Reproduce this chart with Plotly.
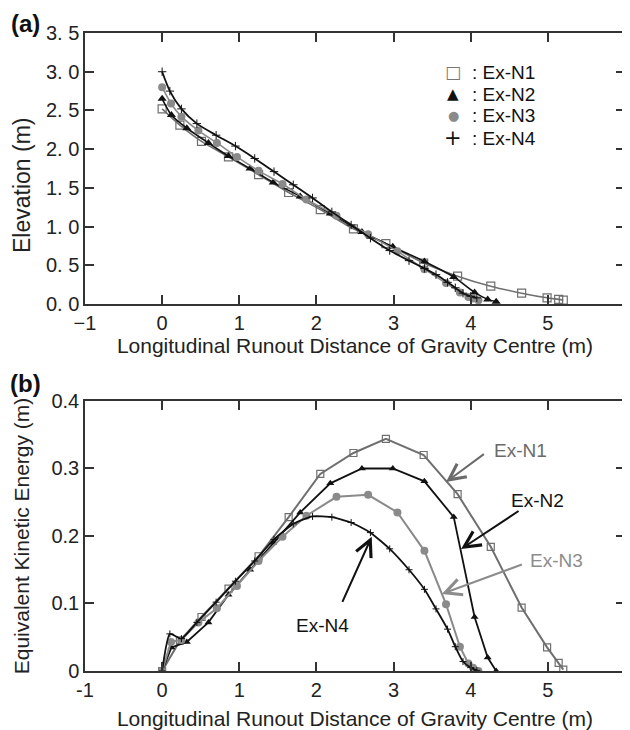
import plotly.graph_objects as go
from plotly.subplots import make_subplots

# ---------------- data ----------------
n1_x = [0, 0.23, 0.51, 0.86, 1.25, 1.64, 2.05, 2.48, 2.90, 3.39, 3.83, 4.26, 4.66, 4.99, 5.14, 5.20]
n1_elev = [2.52, 2.31, 2.10, 1.90, 1.67, 1.44, 1.22, 0.97, 0.78, 0.53, 0.36, 0.23, 0.14, 0.08, 0.06, 0.05]
n1_ke = [0, 0.045, 0.080, 0.122, 0.170, 0.228, 0.292, 0.323, 0.344, 0.320, 0.262, 0.184, 0.094, 0.035, 0.012, 0.002]

n2_x = [0, 0.12, 0.32, 0.60, 0.86, 1.14, 1.44, 1.79, 2.18, 2.59, 2.99, 3.40, 3.78, 4.05, 4.22, 4.33]
n2_elev = [2.65, 2.44, 2.27, 2.08, 1.91, 1.75, 1.57, 1.39, 1.17, 0.93, 0.74, 0.55, 0.35, 0.15, 0.06, 0.03]
n2_ke = [0, 0.035, 0.043, 0.072, 0.113, 0.150, 0.190, 0.235, 0.278, 0.300, 0.300, 0.281, 0.228, 0.080, 0.020, 0.0]

n3_x = [0, 0.115, 0.25, 0.47, 0.71, 0.97, 1.25, 1.56, 1.87, 2.26, 2.67, 3.05, 3.40, 3.68, 3.86, 3.97, 4.03, 4.10]
n3_elev = [2.80, 2.59, 2.42, 2.24, 2.08, 1.90, 1.72, 1.55, 1.35, 1.14, 0.90, 0.68, 0.45, 0.27, 0.15, 0.09, 0.07, 0.05]
n3_ke = [0, 0.043, 0.046, 0.072, 0.093, 0.126, 0.163, 0.199, 0.230, 0.258, 0.261, 0.235, 0.178, 0.099, 0.036, 0.011, 0.005, 0.0]

n4_x = [0, 0.10, 0.25, 0.45, 0.70, 0.95, 1.20, 1.45, 1.70, 1.95, 2.20, 2.45, 2.70, 2.95, 3.20, 3.40, 3.55, 3.70, 3.80, 3.90, 4.00, 4.08]
n4_elev = [3.00, 2.75, 2.52, 2.33, 2.18, 2.04, 1.88, 1.71, 1.54, 1.37, 1.19, 1.02, 0.85, 0.69, 0.56, 0.46, 0.38, 0.28, 0.21, 0.14, 0.10, 0.08]
n4_ke = [0, 0.055, 0.048, 0.072, 0.102, 0.133, 0.163, 0.195, 0.218, 0.229, 0.228, 0.220, 0.205, 0.181, 0.150, 0.121, 0.092, 0.062, 0.036, 0.014, 0.005, 0.001]

series_names = ["Ex-N1", "Ex-N2", "Ex-N3", "Ex-N4"]
legend_glyphs = ["\u25a1", "\u25b2", "\u25cf", "+"]

x_ticks = [-1, 0, 1, 2, 3, 4, 5, 6]
x_ticktext_a = ["\u22121", "0", "1", "2", "3", "4", "5", "6"]
x_ticktext_b = ["-1", "0", "1", "2", "3", "4", "5", "6"]
elev_ticks = [0, 0.5, 1.0, 1.5, 2.0, 2.5, 3.0, 3.5]
elev_ticktext = ["0. 0", "0. 5", "1. 0", "1. 5", "2. 0", "2. 5", "3. 0", "3. 5"]
ke_ticks = [0, 0.1, 0.2, 0.3, 0.4]
ke_ticktext = ["0", "0.1", "0.2", "0.3", "0.4"]

x_title = "Longitudinal Runout Distance of Gravity Centre (m)"
elev_title = "Elevation (m)"
ke_title = "Equivalent Kinetic Energy (m)"

# label/arrow placements (data coords of panel b)
label_pos = {"Ex-N1": (4.64, 0.327), "Ex-N2": (4.87, 0.2526), "Ex-N3": (5.106, 0.1644), "Ex-N4": (2.08, 0.0674)}
arrow_tail = {"Ex-N1": (4.19, 0.323), "Ex-N2": (4.64, 0.2385), "Ex-N3": (4.683, 0.1585), "Ex-N4": (2.328, 0.1003)}
arrow_head = {"Ex-N1": (3.68, 0.280), "Ex-N2": (3.875, 0.1807), "Ex-N3": (3.625, 0.1141), "Ex-N4": (2.717, 0.199)}

# ---------------- styles ----------------
FONT = "Liberation Sans, Arial, sans-serif"
C1 = "#6f6f6f"
C2 = "#111111"
C3 = "#8a8a8a"
C4 = "#111111"
label_colors = {"Ex-N1": "#6a6a6a", "Ex-N2": "#111111", "Ex-N3": "#8c8c8c", "Ex-N4": "#111111"}
glyph_styles = [("#777777", 17, "DejaVu Sans"), ("#111111", 15, "DejaVu Sans"),
                ("#8a8a8a", 13, "DejaVu Sans"), ("#111111", 21, "DejaVu Sans")]

# page body has an 8px margin; figure is sized/offset so that the plot lands at the
# reference pixel positions inside the 630x730 window
PAGE_OFF = 8
W, H = 630 - PAGE_OFF, 730 - PAGE_OFF
ML, MR, MT, MB = 85 - PAGE_OFF, 5, 33 - PAGE_OFF, 59

fig = make_subplots(rows=2, cols=1, vertical_spacing=0.0)

def add_series(row, xs, ys, color, symbol, size, shape, lw=1.6, mline=None, smoothing=0.6):
    marker = dict(symbol=symbol, size=size, color=color)
    if mline is not None:
        marker["line"] = mline
    line = dict(color=color, width=lw, shape=shape)
    if shape == "spline":
        line["smoothing"] = smoothing
    fig.add_trace(go.Scatter(x=xs, y=ys, mode="lines+markers", showlegend=False,
                             line=line, marker=marker), row=row, col=1)

# panel (a)
add_series(1, n1_x, n1_elev, C1, "square-open", 8, "spline", mline=dict(color=C1, width=1.2))
add_series(1, n2_x, n2_elev, C2, "triangle-up", 8, "spline")
add_series(1, n3_x, n3_elev, C3, "circle", 8, "spline")
add_series(1, n4_x, n4_elev, C4, "cross-thin", 6, "spline", lw=1.8, mline=dict(color=C4, width=1))

# panel (b)
add_series(2, n1_x, n1_ke, C1, "square-open", 7, "linear", lw=2, mline=dict(color=C1, width=1.2))
add_series(2, n2_x, n2_ke, C2, "triangle-up", 7, "linear", lw=1.8)
add_series(2, n3_x, n3_ke, C3, "circle", 8, "linear", lw=2)
add_series(2, n4_x, n4_ke, C4, "cross-thin", 5, "spline", lw=1.8, mline=dict(color=C4, width=1), smoothing=0.5)

axis_common = dict(showline=True, linecolor="#333333", linewidth=1.5, mirror="ticks",
                   ticks="inside", ticklen=9, tickwidth=1.5, tickcolor="#333333",
                   showgrid=False, zeroline=False, automargin=False,
                   tickfont=dict(family=FONT, size=20, color="#222222"),
                   title_font=dict(family=FONT, size=21, color="#222222"))

fig.update_xaxes(range=[-1, 6], tickvals=x_ticks, ticktext=x_ticktext_a,
                 title_text=x_title, title_standoff=4, row=1, col=1, **axis_common)
fig.update_yaxes(range=[0, 3.5], tickvals=elev_ticks, ticktext=elev_ticktext,
                 row=1, col=1, **axis_common)
fig.update_xaxes(range=[-1, 6], tickvals=x_ticks, ticktext=x_ticktext_b,
                 title_text=x_title, title_standoff=13, row=2, col=1, **axis_common)
fig.update_yaxes(range=[0, 0.4], tickvals=ke_ticks, ticktext=ke_ticktext,
                 title_text=ke_title, title_standoff=16, row=2, col=1, **axis_common)

fig.update_layout(
    xaxis=dict(domain=[0, 1]),
    yaxis=dict(domain=[0.5752, 1.0]),
    xaxis2=dict(domain=[0, 1]),
    yaxis2=dict(domain=[0.0, 0.4232]),
)

plot_h = H - MT - MB
plot_w = W - ML - MR
def px_to_paper(px, py):
    # px, py given in window pixels
    return (px - PAGE_OFF - ML) / plot_w, (H - MB - (py - PAGE_OFF)) / plot_h

annotations = []
for name in series_names:
    tx, ty = arrow_tail[name]
    hx, hy = arrow_head[name]
    annotations.append(dict(x=hx, y=hy, ax=tx, ay=ty, xref="x2", yref="y2", axref="x2", ayref="y2",
                            text="", showarrow=True, arrowhead=5, arrowsize=1.6, arrowwidth=2,
                            arrowcolor=label_colors[name]))
    lx, ly = label_pos[name]
    annotations.append(dict(x=lx, y=ly, xref="x2", yref="y2", text=name, showarrow=False,
                            font=dict(family=FONT, size=19, color=label_colors[name])))

# legend (panel a) built from text
for i, (name, glyph, (gcol, gsize, gfont)) in enumerate(zip(series_names, legend_glyphs, glyph_styles)):
    row_y = 72 + 22 * i
    gx, gy = px_to_paper(453, row_y)
    annotations.append(dict(x=gx, y=gy, xref="paper", yref="paper", text=glyph, showarrow=False,
                            xanchor="center", yanchor="middle",
                            font=dict(family=gfont, size=gsize, color=gcol)))
    tx_, ty_ = px_to_paper(470, row_y)
    annotations.append(dict(x=tx_, y=ty_, xref="paper", yref="paper", text=": " + name, showarrow=False,
                            xanchor="left", yanchor="middle",
                            font=dict(family=FONT, size=19, color="#111111")))

# elevation axis title (sits slightly below centre in the reference)
ex_, ey_ = px_to_paper(22, 186)
annotations.append(dict(x=ex_, y=ey_, xref="paper", yref="paper", text=elev_title, showarrow=False,
                        textangle=-90, xanchor="center", yanchor="middle",
                        font=dict(family=FONT, size=23, color="#222222")))

ax_, ay_ = px_to_paper(25, 24)
bx_, by_ = px_to_paper(25, 383)
annotations.append(dict(x=ax_, y=ay_, xref="paper", yref="paper", text="<b>(a)</b>", showarrow=False,
                        xanchor="center", yanchor="middle",
                        font=dict(family=FONT, size=24, color="#111111")))
annotations.append(dict(x=bx_, y=by_, xref="paper", yref="paper", text="<b>(b)</b>", showarrow=False,
                        xanchor="center", yanchor="middle",
                        font=dict(family=FONT, size=24, color="#111111")))

fig.update_layout(
    width=W, height=H,
    margin=dict(l=ML, r=MR, t=MT, b=MB, autoexpand=False),
    paper_bgcolor="white", plot_bgcolor="white",
    font=dict(family=FONT, color="#222222"),
    showlegend=False,
    annotations=annotations,
)

fig.write_html("out.html")
